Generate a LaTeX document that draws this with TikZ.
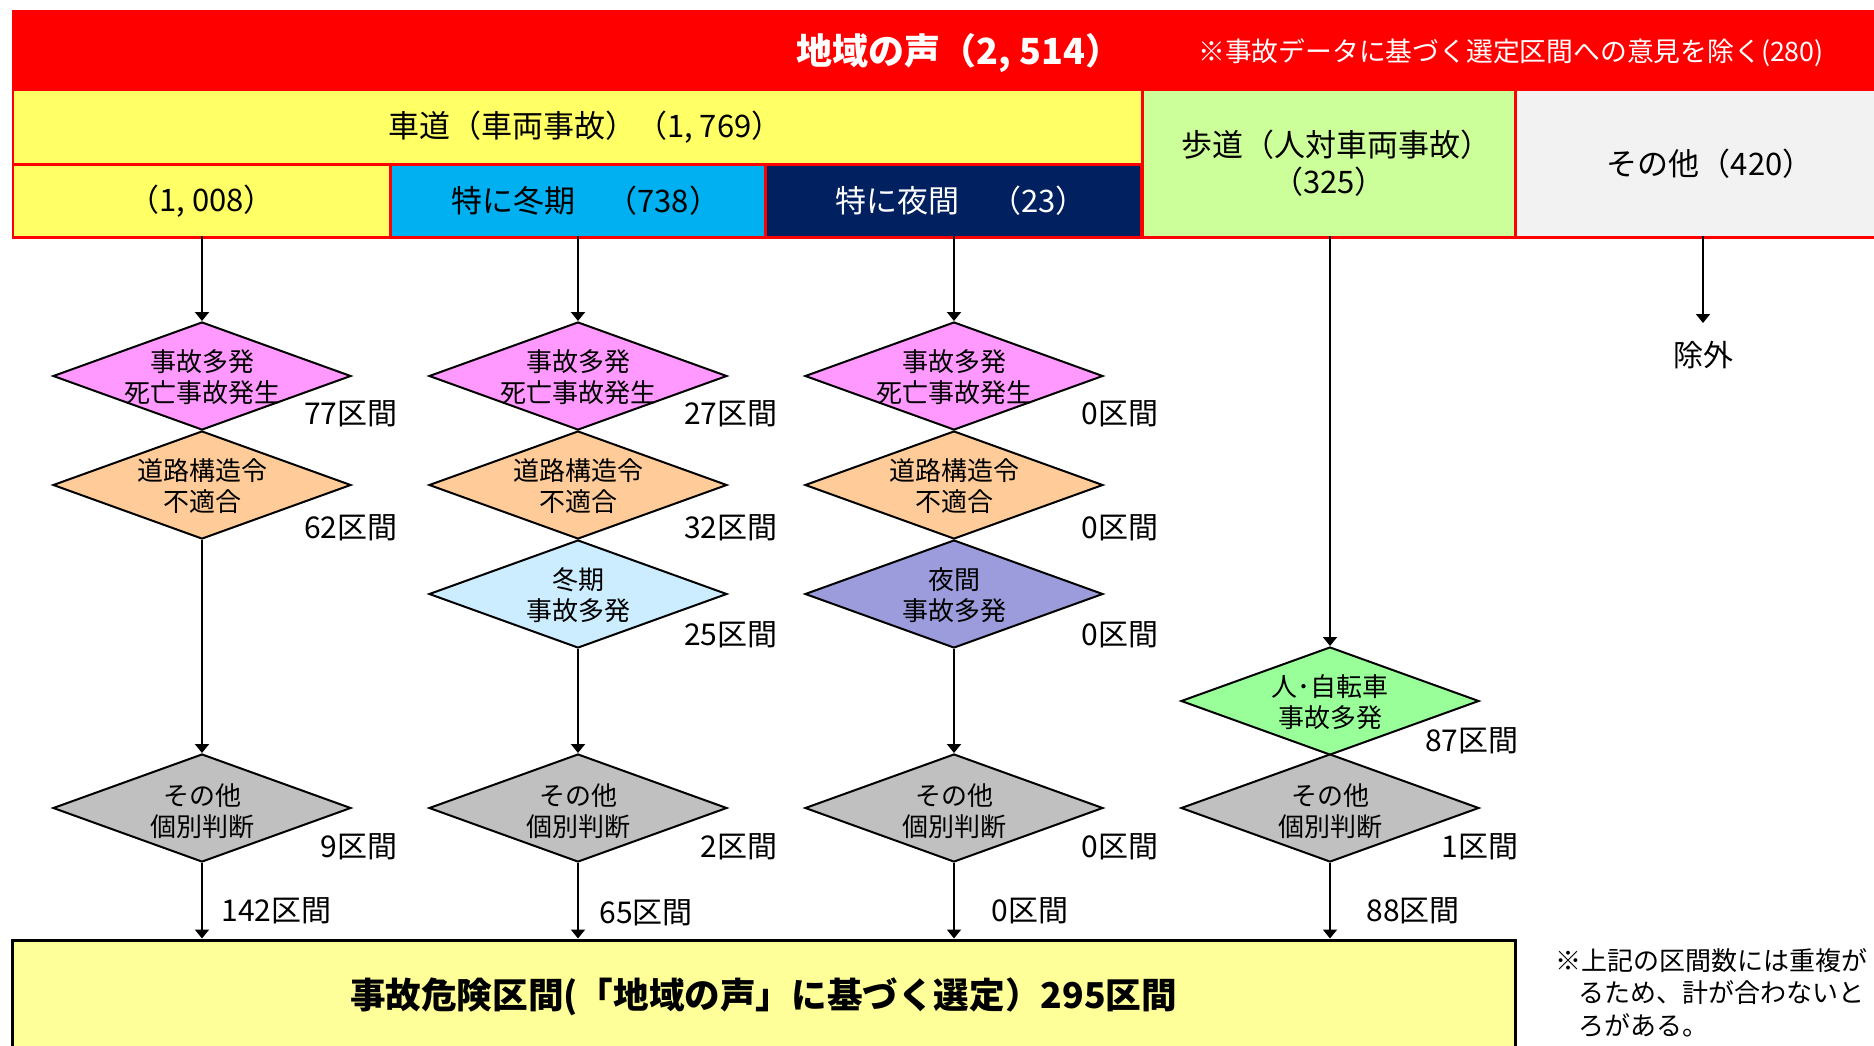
\documentclass[tikz,border=0pt]{standalone}
\usepackage{fontspec}
\setmainfont{Noto Sans CJK JP}
\usetikzlibrary{arrows.meta,shapes.geometric}
\definecolor{cred}{HTML}{FF0000}
\definecolor{cyel}{HTML}{FFFF66}
\definecolor{ccyan}{HTML}{00B0F0}
\definecolor{cnavy}{HTML}{002060}
\definecolor{cwalk}{HTML}{CCFF99}
\definecolor{cother}{HTML}{F2F2F2}
\definecolor{cpink}{HTML}{FF99FF}
\definecolor{corange}{HTML}{FFCC99}
\definecolor{clblue}{HTML}{CCECFF}
\definecolor{cpurple}{HTML}{9C9CDC}
\definecolor{cgreen}{HTML}{99FF99}
\definecolor{cgray}{HTML}{C0C0C0}
\definecolor{cfin}{HTML}{FFFF99}
\begin{document}
\begin{tikzpicture}[x=0.5pt,y=-0.5pt,
  box/.style={rectangle, draw=none, inner sep=0pt, align=center, font=\fontsize{15.5}{18.5}\selectfont},
  dia/.style={diamond, draw=black, line width=1pt, inner sep=0pt, minimum width=149pt, minimum height=54pt},
  dtext/.style={align=center, inner sep=0pt, font=\fontsize{13}{15.5}\selectfont},
  lab/.style={inner sep=0pt, font=\fontsize{15}{18}\selectfont},
  arr/.style={-{Triangle[length=4.5pt,width=7pt]}, line width=1pt}]
\useasboundingbox (0,0) rectangle (1874,1045);
\clip (0,0) rectangle (1874,1045);

% header
\node[box, fill=cred, minimum width=940pt, minimum height=114.5pt] (banner) at (952,124.5) {};
\node[inner sep=0pt, text=white, font=\fontsize{18}{20}\selectfont\bfseries] (title) at (950,53) {地域の声（2, 514）\kern-0.5em};
\node[inner sep=0pt, text=white, font=\fontsize{13.4}{16}\selectfont] (hnote) at (1511,53) {※事故データに基づく選定区間への意見を除く(280)};

\node[box, fill=cyel, minimum width=563.5pt, minimum height=36pt] (road) at (577.5,127) {車道（車両事故）（1, 769）\kern-0.5em};
\node[box, fill=cyel, minimum width=187.5pt, minimum height=35pt] (b1008) at (201.5,201) {（1, 008）};
\node[box, fill=ccyan, minimum width=186pt, minimum height=35pt] (winter) at (578,201) {特に冬期　（738）\kern-0.5em};
\node[box, fill=cnavy, text=white, minimum width=186.5pt, minimum height=35pt] (night) at (953.5,201) {特に夜間　（23）\kern-0.5em};
\node[box, fill=cwalk, minimum width=185pt, minimum height=72.5pt] (walk) at (1329,163.5) {歩道（人対車両事故）\kern-0.5em\\（325）};
\node[box, fill=cother, minimum width=185.5pt, minimum height=72.5pt] (other) at (1702.5,163.5) {その他（420）\kern-0.5em};

% column 1
\node[dia, fill=cpink] (p1) at (202,376) {};
\node[dtext] (p1t) at (202,377) {事故多発\\死亡事故発生};
\node[dia, fill=corange] (o1) at (202,485) {};
\node[dtext] (o1t) at (202,486) {道路構造令\\不適合};
\node[dia, fill=cgray] (g1) at (202,808) {};
\node[dtext] (g1t) at (202,811) {その他\\個別判断};

% column 2
\node[dia, fill=cpink] (p2) at (578,376) {};
\node[dtext] (p2t) at (578,377) {事故多発\\死亡事故発生};
\node[dia, fill=corange] (o2) at (578,485) {};
\node[dtext] (o2t) at (578,486) {道路構造令\\不適合};
\node[dia, fill=clblue] (w2) at (578,594) {};
\node[dtext] (w2t) at (578,595) {冬期\\事故多発};
\node[dia, fill=cgray] (g2) at (578,808) {};
\node[dtext] (g2t) at (578,811) {その他\\個別判断};

% column 3
\node[dia, fill=cpink] (p3) at (954,376) {};
\node[dtext] (p3t) at (954,377) {事故多発\\死亡事故発生};
\node[dia, fill=corange] (o3) at (954,485) {};
\node[dtext] (o3t) at (954,486) {道路構造令\\不適合};
\node[dia, fill=cpurple] (n3) at (954,594) {};
\node[dtext] (n3t) at (954,595) {夜間\\事故多発};
\node[dia, fill=cgray] (g3) at (954,808) {};
\node[dtext] (g3t) at (954,811) {その他\\個別判断};

% column 4
\node[dia, fill=cgreen] (h4) at (1330,701) {};
\node[dtext] (h4t) at (1330,702) {人･自転車\\事故多発};
\node[dia, fill=cgray] (g4) at (1330,808) {};
\node[dtext] (g4t) at (1330,811) {その他\\個別判断};

% column 5
\coordinate (exend) at (1703,323);
\node[lab] (excl) at (1703,355) {除外};

% final box
\node[draw=black, line width=1.5pt, fill=cfin, minimum width=751.5pt, minimum height=57pt, inner sep=0pt,
  font=\fontsize{17.8}{20}\selectfont\bfseries] (fin) at (763.5,997) {事故危険区間(「地域の声」に基づく選定）295区間};

\node[inner sep=0pt, anchor=north west, align=left, font=\fontsize{13}{16.25}\selectfont] (foot) at (1555,948)
  {※上記の区間数には重複が\\\hspace*{0.9em}るため、計が合わないと\\\hspace*{0.9em}ろがある。};

% count labels
\node[lab, anchor=east] (l1a) at (398,414) {77区間};
\node[lab, anchor=east] (l1b) at (398,528) {62区間};
\node[lab, anchor=east] (l1c) at (398,847) {9区間};
\node[lab, anchor=east] (l2a) at (778,414) {27区間};
\node[lab, anchor=east] (l2b) at (778,528) {32区間};
\node[lab, anchor=east] (l2c) at (778,635) {25区間};
\node[lab, anchor=east] (l2d) at (778,847) {2区間};
\node[lab, anchor=east] (l3a) at (1159,414) {0区間};
\node[lab, anchor=east] (l3b) at (1159,528) {0区間};
\node[lab, anchor=east] (l3c) at (1159,635) {0区間};
\node[lab, anchor=east] (l3d) at (1159,847) {0区間};
\node[lab, anchor=east] (l4a) at (1519,741) {87区間};
\node[lab, anchor=east] (l4b) at (1519,847) {1区間};

\node[lab, anchor=west] (s1) at (221,911) {142区間};
\node[lab, anchor=west] (s2) at (599,913) {65区間};
\node[lab, anchor=west] (s3) at (991,911) {0区間};
\node[lab, anchor=west] (s4) at (1366,911) {88区間};

% connectors
\draw[arr] (b1008.south -| p1.north) -- (p1.north);
\draw[arr] (o1.south) -- (g1.north);
\draw[arr] (g1.south) -- (g1.south |- fin.north);
\draw[arr] (winter.south -| p2.north) -- (p2.north);
\draw[arr] (w2.south) -- (g2.north);
\draw[arr] (g2.south) -- (g2.south |- fin.north);
\draw[arr] (night.south -| p3.north) -- (p3.north);
\draw[arr] (n3.south) -- (g3.north);
\draw[arr] (g3.south) -- (g3.south |- fin.north);
\draw[arr] (walk.south -| h4.north) -- (h4.north);
\draw[arr] (g4.south) -- (g4.south |- fin.north);
\draw[arr] (other.south -| exend) -- (exend);
\end{tikzpicture}
\end{document}
